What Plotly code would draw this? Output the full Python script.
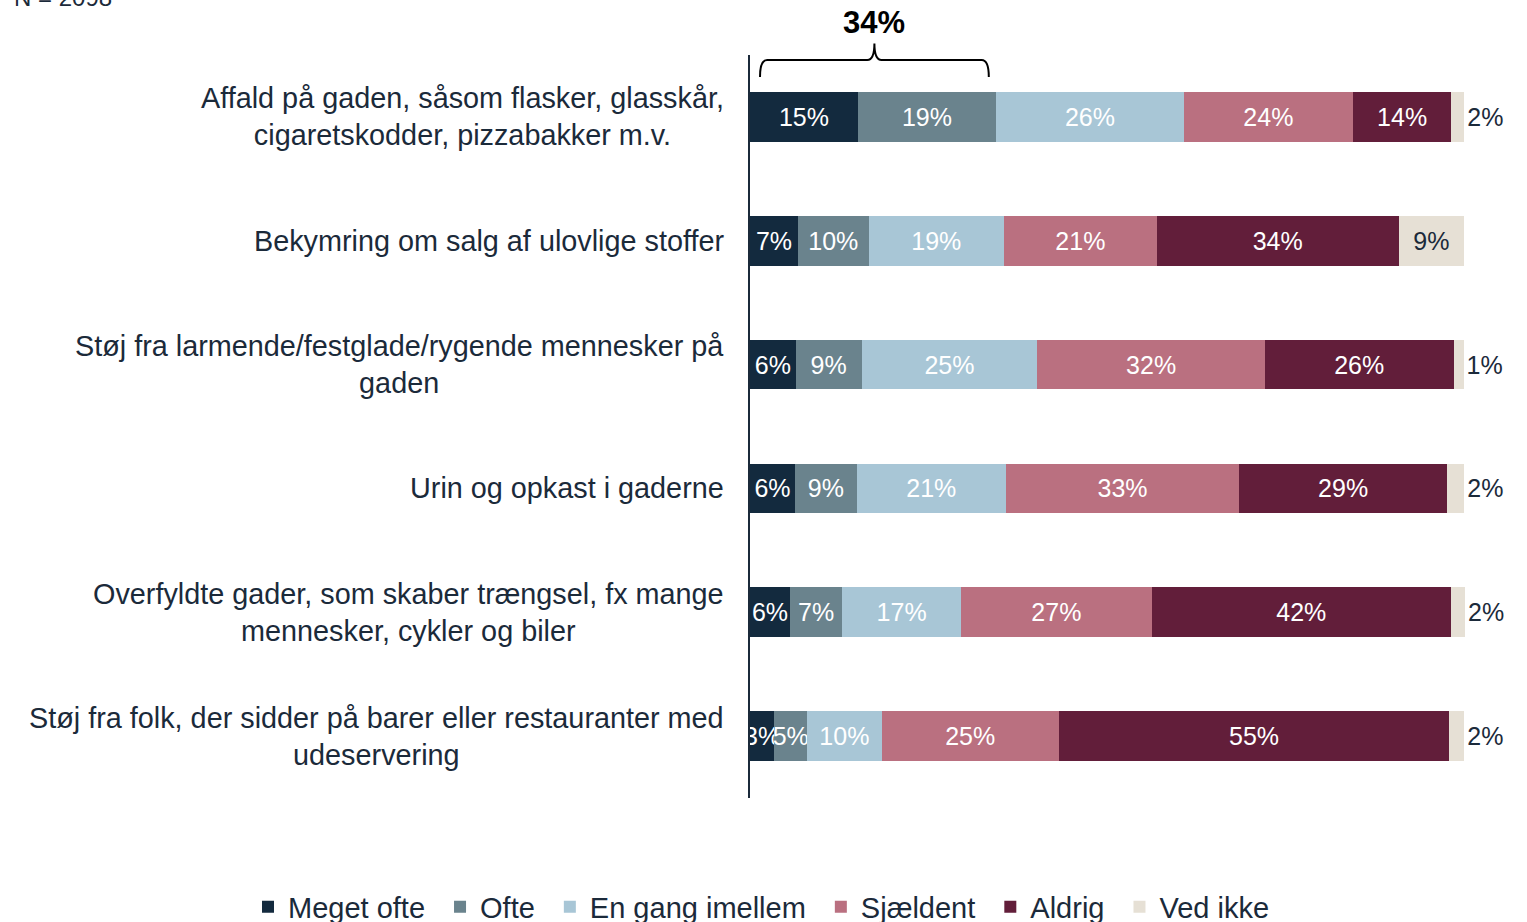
import plotly.graph_objects as go

categories = [
    "Affald på gaden, såsom flasker, glasskår,<br>cigaretskodder, pizzabakker m.v.",
    "Bekymring om salg af ulovlige stoffer",
    "Støj fra larmende/festglade/rygende mennesker på<br>gaden",
    "Urin og opkast i gaderne",
    "Overfyldte gader, som skaber trængsel, fx mange<br>mennesker, cykler og biler",
    "Støj fra folk, der sidder på barer eller restauranter med<br>udeservering",
]
series_names = ["Meget ofte", "Ofte", "En gang imellem", "Sjældent", "Aldrig", "Ved ikke"]
meget_ofte = [15.1, 6.7, 6.4, 6.3, 5.6, 3.4]
ofte = [19.3, 9.9, 9.2, 8.6, 7.3, 4.6]
en_gang = [26.3, 18.9, 24.6, 20.9, 16.6, 10.4]
sjaeldent = [23.6, 21.4, 31.8, 32.6, 26.7, 24.8]
aldrig = [13.8, 33.8, 26.4, 29.1, 41.8, 54.6]
ved_ikke = [1.8, 9.2, 1.4, 2.4, 2.0, 2.1]
colors = ["#132A3E", "#6A838D", "#A8C6D6", "#BA7080", "#621E3A", "#E6E0D5"]
n_text = "N = 2098"

NAVY = "#1B2A3A"
FONT = "Liberation Sans, Arial, sans-serif"

W, H = 1527, 922
ML, MR, MT, MB = 750, 62, 55, 124
PW, PH = W - ML - MR, H - MT - MB

all_series = [meget_ofte, ofte, en_gang, sjaeldent, aldrig, ved_ikke]

fig = go.Figure()
for i, (name, vals, col) in enumerate(zip(series_names, all_series, colors)):
    last = i == len(all_series) - 1
    if last:
        positions = ["inside" if v >= 5 else "outside" for v in vals]
        tcolor = NAVY
    else:
        positions = "inside"
        tcolor = "white"
    fig.add_trace(go.Bar(
        name=name, y=categories, x=vals, orientation="h",
        marker=dict(color=col, line=dict(width=0)),
        text=[f"{v:.0f}%" for v in vals],
        textposition=positions,
        insidetextanchor="middle",
        textangle=0,
        textfont=dict(color=tcolor, size=25, family=FONT),
        outsidetextfont=dict(color=NAVY, size=25, family=FONT),
        cliponaxis=not last,
        hoverinfo="skip",
    ))

annotations = []
for c in categories:
    annotations.append(dict(
        x=0, xref="paper", y=c, yref="y", text=c, showarrow=False,
        xanchor="right", yanchor="middle", align="center", xshift=-24,
        font=dict(size=28.8, color=NAVY, family=FONT),
    ))

# bracket over first two segments of first row
total12 = meget_ofte[0] + ofte[0]
x0 = 1.4
x1 = total12 - 1.0
xm = (x0 + x1) / 2
y_tip, y_line, y_peak = 0.9704, 0.9933, 1.0155
r = 1.0
path = (f"M {x0},{y_tip} Q {x0},{y_line} {x0 + r},{y_line} "
        f"L {xm - r},{y_line} Q {xm},{y_line} {xm},{y_peak} "
        f"Q {xm},{y_line} {xm + r},{y_line} "
        f"L {x1 - r},{y_line} Q {x1},{y_line} {x1},{y_tip}")
fig.add_shape(type="path", path=path, xref="x", yref="paper",
              line=dict(color="black", width=2))
annotations.append(dict(
    x=xm, xref="x", y=1.0444, yref="paper", text=f"<b>{total12:.0f}%</b>",
    showarrow=False, xanchor="center", yanchor="middle",
    font=dict(size=31, color="black", family=FONT),
))
annotations.append(dict(
    x=(12 - ML) / PW, xref="paper", y=(H - MB + 3) / PH, yref="paper",
    text=n_text, showarrow=False, xanchor="left", yanchor="middle",
    font=dict(size=24, color=NAVY, family=FONT),
))

fig.update_layout(
    barmode="stack",
    bargap=0.6,
    width=W, height=H,
    margin=dict(l=ML, r=MR, t=MT, b=MB, autoexpand=False),
    paper_bgcolor="white", plot_bgcolor="white",
    showlegend=True,
    legend=dict(
        orientation="h", xref="paper", yref="paper",
        x=(238 - ML) / PW, xanchor="left",
        y=(H - MB - 907) / PH, yanchor="middle",
        font=dict(size=29, color=NAVY, family=FONT),
        traceorder="normal", itemwidth=30, indentation=10,
    ),
    uniformtext=dict(minsize=25, mode="show"),
    xaxis=dict(range=[0, 100], visible=False, fixedrange=True),
    yaxis=dict(autorange="reversed", showticklabels=False, showgrid=False,
               showline=True, linecolor=NAVY, linewidth=2, ticks="",
               zeroline=False, fixedrange=True),
    annotations=annotations,
    font=dict(family=FONT, color=NAVY),
)

fig.write_html("out.html", config={"displayModeBar": False},
               post_script="document.body.style.margin='0px';")
